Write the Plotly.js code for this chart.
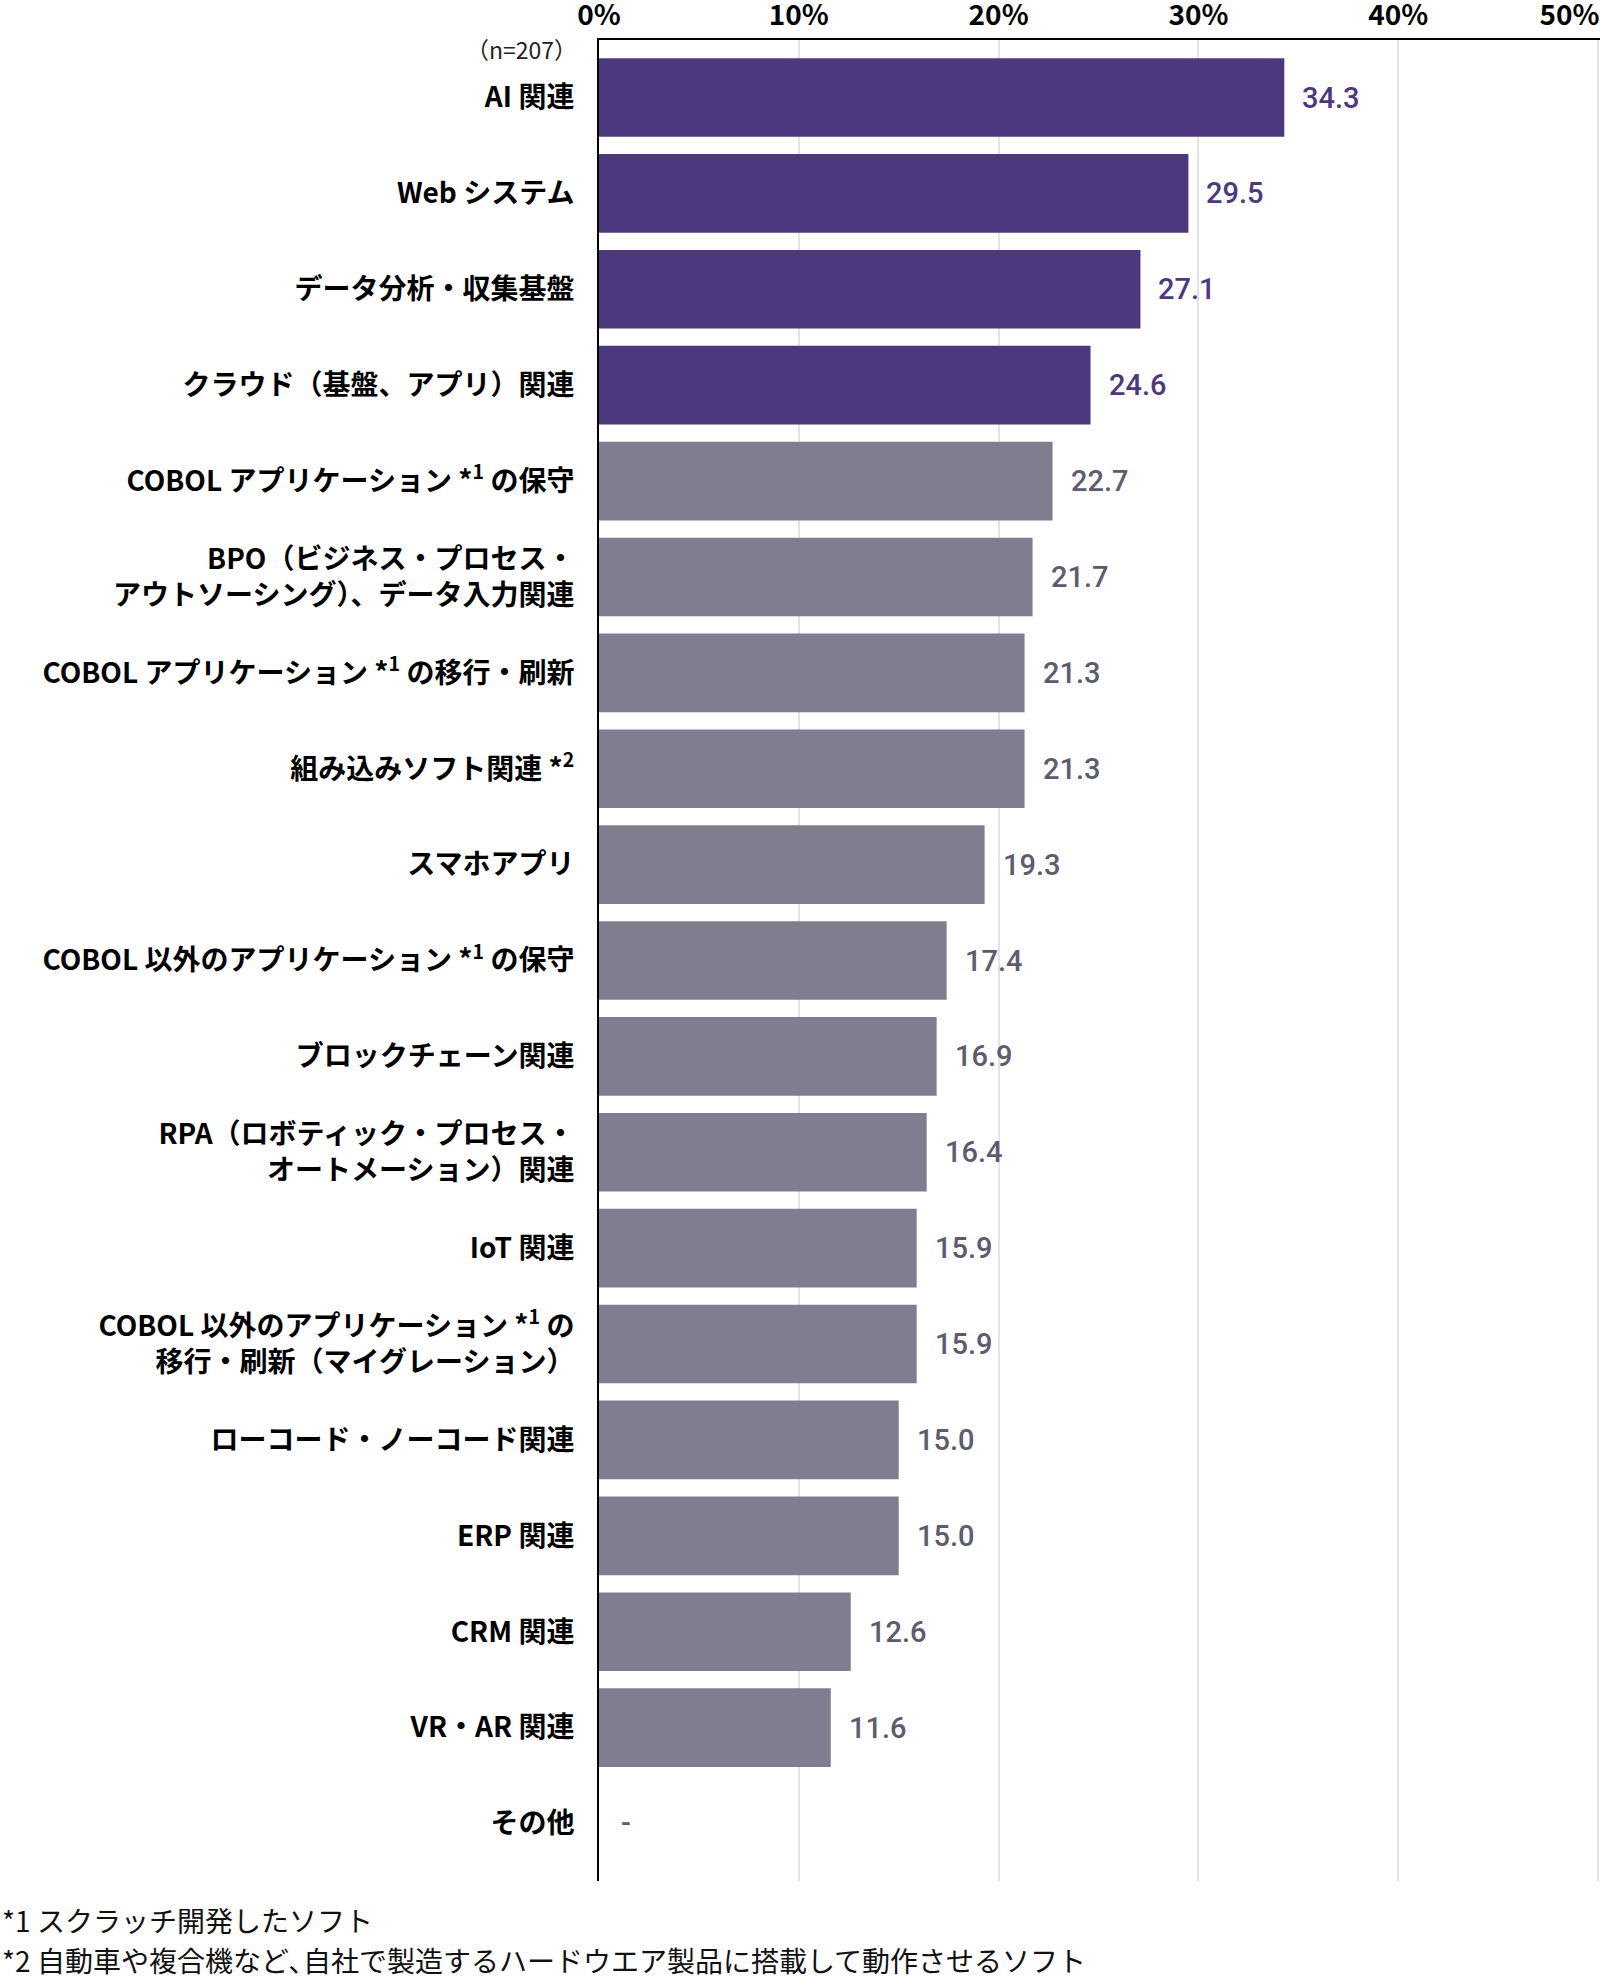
<!DOCTYPE html>
<html>
<head>
<meta charset="utf-8">
<script src="https://cdn.plot.ly/plotly-3.0.1.min.js"></script>
<style>
  html, body { margin: 0; padding: 0; background: #ffffff; }
  #chart { width: 1600px; height: 1982px; }
</style>
</head>
<body>
<div id="chart"></div>
<script>
// ---- data ----
const categories = [
  "AI関連", "Webシステム", "データ分析・収集基盤", "クラウド関連",
  "COBOL保守", "BPO・データ入力", "COBOL移行・刷新", "組み込みソフト",
  "スマホアプリ", "COBOL以外保守", "ブロックチェーン", "RPA",
  "IoT", "COBOL以外移行・刷新", "ローコード・ノーコード", "ERP",
  "CRM", "VR・AR", "その他"
];
const tickLabels = [
  "AI 関連",
  "Web システム",
  "データ分析・収集基盤",
  "クラウド（基盤、アプリ）関連",
  "COBOL アプリケーション *<sup>1</sup> の保守",
  "BPO（ビジネス・プロセス・<br>アウトソーシング）、データ入力関連",
  "COBOL アプリケーション *<sup>1</sup> の移行・刷新",
  "組み込みソフト関連 *<sup>2</sup>",
  "スマホアプリ",
  "COBOL 以外のアプリケーション *<sup>1</sup> の保守",
  "ブロックチェーン関連",
  "RPA（ロボティック・プロセス・<br>オートメーション）関連",
  "IoT 関連",
  "COBOL 以外のアプリケーション *<sup>1</sup> の<br>移行・刷新（マイグレーション）",
  "ローコード・ノーコード関連",
  "ERP 関連",
  "CRM 関連",
  "VR・AR 関連",
  "その他"
];
const values = [34.3, 29.5, 27.1, 24.6, 22.7, 21.7, 21.3, 21.3, 19.3, 17.4,
                16.9, 16.4, 15.9, 15.9, 15.0, 15.0, 12.6, 11.6, null];
const highlightCount = 4;
const xTickValues = [0, 10, 20, 30, 40, 50];
const sampleNote = "（n=207）";
const footnotes = [
  "*1 スクラッチ開発したソフト",
  "*2 自動車や複合機など､自社で製造するハードウエア製品に搭載して動作させるソフト"
];

// ---- styles ----
const PURPLE = "#4d3880";
const GRAY = "#7f7d8f";
const PURPLE_TXT = "#4d3880";
const GRAY_TXT = "#5d5b6d";
const JP = "'Noto Sans CJK JP', 'Noto Sans', sans-serif";
const NUM = "Roboto, 'Noto Sans', sans-serif";

const W = 1600, H = 1982;
const M = { l: 599, r: 0, t: 40, b: 101 };
const plotW = W - M.l - M.r;
const xMax = 50.1;

const barColors = categories.map((c, i) => i < highlightCount ? PURPLE : GRAY);
const txtColors = categories.map((c, i) => i < highlightCount ? PURPLE_TXT : GRAY_TXT);

// last tick label is pulled left so it stays inside the page
const NBSP = "\u00A0";
const xTickText = xTickValues.map((v, i) =>
  i === xTickValues.length - 1 ? v + "%" + NBSP.repeat(9) : v + "%");

const trace = {
  type: "bar",
  orientation: "h",
  x: values,
  y: categories,
  marker: { color: barColors, line: { width: 0 } },
  hoverinfo: "skip",
  cliponaxis: false
};

const annotations = [];
categories.forEach((c, i) => {
  const v = values[i];
  annotations.push({
    x: v == null ? 0 : v,
    y: c,
    xref: "x", yref: "y",
    text: v == null ? "-" : v.toFixed(1),
    showarrow: false,
    xanchor: "left",
    yanchor: "middle",
    xshift: v == null ? 20 : 16,
    font: { family: NUM, size: 29, color: txtColors[i], weight: 500 }
  });
});

annotations.push({
  xref: "paper", yref: "paper",
  x: 0, y: 1,
  xshift: -20, yshift: -9,
  xanchor: "right", yanchor: "middle",
  text: sampleNote,
  showarrow: false,
  font: { family: JP, size: 23, color: "#222222" }
});

footnotes.forEach((t, i) => {
  annotations.push({
    xref: "paper", yref: "paper",
    x: -M.l / plotW, y: 0,
    xanchor: "left", yanchor: "middle",
    yshift: -(1920 - (H - M.b)) - i * 40,
    text: t,
    showarrow: false,
    font: { family: JP, size: 28, color: "#111111" }
  });
});

const layout = {
  width: W, height: H,
  margin: M,
  paper_bgcolor: "#ffffff",
  plot_bgcolor: "#ffffff",
  showlegend: false,
  bargap: 0.18,
  xaxis: {
    side: "top",
    range: [0, xMax],
    tickmode: "array",
    tickvals: xTickValues,
    ticktext: xTickText,
    showgrid: true,
    gridcolor: "#e3e3e3",
    gridwidth: 2,
    zeroline: false,
    showline: true,
    linecolor: "#000000",
    linewidth: 2,
    ticks: "",
    ticklabelstandoff: 2,
    ticklabeloverflow: "allow",
    tickfont: { family: JP, size: 28, color: "#000000", weight: 700 },
    fixedrange: true
  },
  yaxis: {
    type: "category",
    range: [categories.length - 0.4, -0.6],
    tickmode: "array",
    tickvals: categories,
    ticktext: tickLabels,
    showgrid: false,
    zeroline: false,
    showline: true,
    linecolor: "#000000",
    linewidth: 2,
    ticks: "",
    ticklabelstandoff: 17,
    tickfont: { family: JP, size: 28, color: "#000000", weight: 700 },
    fixedrange: true
  },
  annotations: annotations
};

Plotly.newPlot("chart", [trace], layout, { displayModeBar: false, staticPlot: true });
</script>
</body>
</html>
